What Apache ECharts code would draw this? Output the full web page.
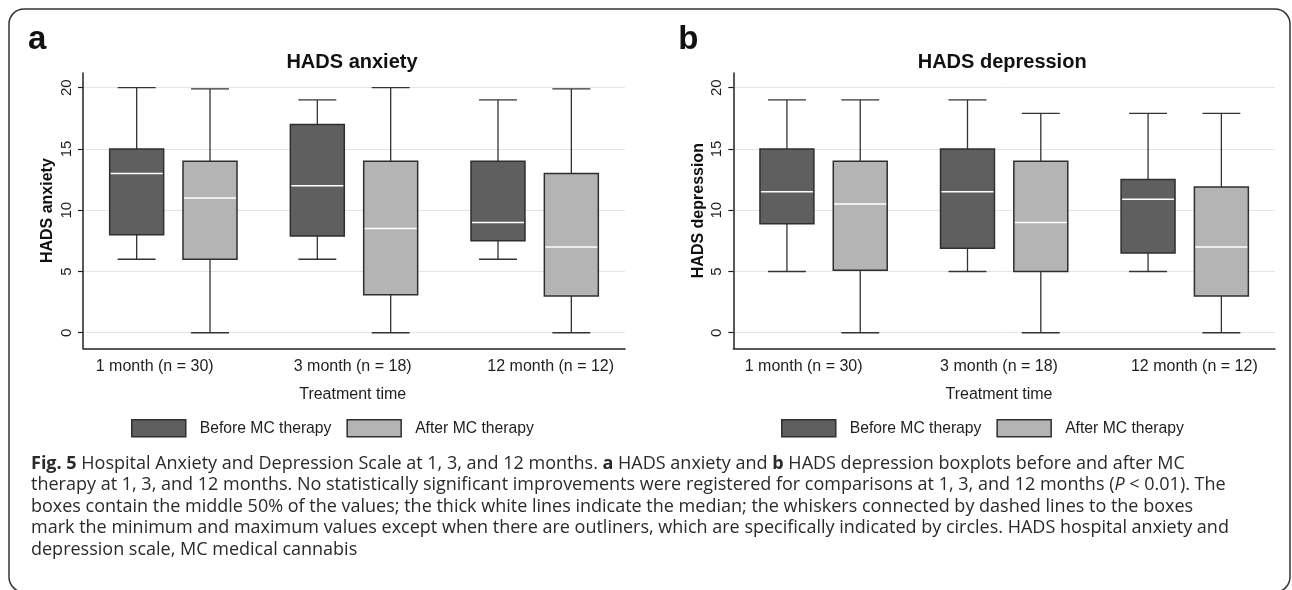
<!DOCTYPE html>
<html><head><meta charset="utf-8">
<script src="https://cdn.jsdelivr.net/npm/echarts@6/dist/echarts.min.js"></script>
<style>html,body{margin:0;padding:0;background:#fff}#c{width:1292px;height:590px}</style>
</head><body><div id="c"></div><script>
// ---------- data ----------
const categories = ['1 month (n = 30)', '3 month (n = 18)', '12 month (n = 12)'];
const seriesNames = ['Before MC therapy', 'After MC therapy'];
// each box: [min, Q1, median, Q3, max]
const anxietyBefore = [[6, 8, 13, 15, 20], [6, 7.9, 12, 17, 19], [6, 7.5, 9, 14, 19]];
const anxietyAfter = [[0, 6, 11, 14, 19.9], [0, 3.1, 8.5, 14, 20], [0, 3, 7, 13, 19.9]];
const depressionBefore = [[5, 8.9, 11.5, 15, 19], [5, 6.9, 11.5, 15, 19], [5, 6.5, 10.9, 12.5, 17.9]];
const depressionAfter = [[0, 5.1, 10.5, 14, 19], [0, 5, 9, 14, 17.9], [0, 3, 7, 11.9, 17.9]];
const yTicks = [0, 5, 10, 15, 20];
const panelTitles = ['HADS anxiety', 'HADS depression'];
const panelLetters = ['a', 'b'];
const xAxisTitle = 'Treatment time';
const captionLines = [
  '{b|Fig. 5} Hospital Anxiety and Depression Scale at 1, 3, and 12 months. {b|a} HADS anxiety and {b|b} HADS depression boxplots before and after MC',
  'therapy at 1, 3, and 12 months. No statistically significant improvements were registered for comparisons at 1, 3, and 12 months ({i|P} < 0.01). The',
  'boxes contain the middle 50% of the values; the thick white lines indicate the median; the whiskers connected by dashed lines to the boxes',
  'mark the minimum and maximum values except when there are outliners, which are specifically indicated by circles. HADS hospital anxiety and',
  'depression scale, MC medical cannabis'
];

// ---------- styles ----------
const FONT = '"Liberation Sans", Arial, Helvetica, sans-serif';
const CAP_FONT = '"Open Sans", "Noto Sans", sans-serif';
const CAP_SIZE = 18;
const TXT = '#1e1e1e';
const FILL_BEFORE = '#5f5f5f';
const FILL_AFTER = '#b4b4b4';
const EDGE = '#2f2f2f';
const Y_MIN = -1.27, Y_MAX = 21.2;

const panels = [
  { main: { left: 83, width: 542 }, label: { left: 55.7, width: 594 }, before: anxietyBefore, after: anxietyAfter, yName: 'HADS anxiety', legendLeft: 131 },
  { main: { left: 733.3, width: 541.7 }, label: { left: 706, width: 594 }, before: depressionBefore, after: depressionAfter, yName: 'HADS depression', legendLeft: 781 }
];
const GRID_TOP = 73, GRID_H = 275.3;

function makeBoxRenderer(side, fill) {
  return function (params, api) {
    const cat = api.value(0);
    const band = api.size([1, 0])[0];
    const cx = api.coord([cat, 0])[0] + side * band * 0.203;
    const half = band * 0.1494;
    const capHalf = band * 0.105;
    const yMin = api.coord([cat, api.value(1)])[1];
    const yQ1 = api.coord([cat, api.value(2)])[1];
    const yMed = api.coord([cat, api.value(3)])[1];
    const yQ3 = api.coord([cat, api.value(4)])[1];
    const yMax = api.coord([cat, api.value(5)])[1];
    const ls = { stroke: '#333', lineWidth: 1.3 };
    return {
      type: 'group', children: [
        { type: 'line', shape: { x1: cx, y1: yMax, x2: cx, y2: yQ3 }, style: ls },
        { type: 'line', shape: { x1: cx, y1: yQ1, x2: cx, y2: yMin }, style: ls },
        { type: 'line', shape: { x1: cx - capHalf, y1: yMax, x2: cx + capHalf, y2: yMax }, style: ls },
        { type: 'line', shape: { x1: cx - capHalf, y1: yMin, x2: cx + capHalf, y2: yMin }, style: ls },
        { type: 'rect', shape: { x: cx - half, y: yQ3, width: half * 2, height: yQ1 - yQ3 }, style: { fill: fill, stroke: EDGE, lineWidth: 1.5 } },
        { type: 'line', shape: { x1: cx - half + 1, y1: yMed, x2: cx + half - 1, y2: yMed }, style: { stroke: '#ffffff', lineWidth: 1.5 } }
      ]
    };
  };
}

const grid = [], xAxis = [], yAxis = [], series = [], legend = [], graphic = [];
panels.forEach((p, pi) => {
  const gMain = grid.length;
  grid.push({ left: p.main.left, width: p.main.width, top: GRID_TOP, height: GRID_H, containLabel: false });
  grid.push({ left: p.label.left, width: p.label.width, top: GRID_TOP, height: GRID_H, containLabel: false });
  xAxis.push({
    gridIndex: gMain, type: 'category', data: categories,
    axisLine: { show: true, onZero: false, lineStyle: { color: '#222', width: 1.5 } },
    axisTick: { show: false }, axisLabel: { show: false }, splitLine: { show: false }
  });
  xAxis.push({
    gridIndex: gMain + 1, type: 'category', data: categories,
    axisLine: { show: false, onZero: false }, axisTick: { show: false },
    axisLabel: { show: true, fontSize: 16, color: TXT, fontFamily: FONT, margin: 10 },
    name: xAxisTitle, nameLocation: 'middle', nameGap: 38,
    nameTextStyle: { fontSize: 16, color: TXT, fontFamily: FONT }
  });
  yAxis.push({
    gridIndex: gMain, type: 'value', min: Y_MIN, max: Y_MAX,
    axisLine: { show: true, lineStyle: { color: '#222', width: 1.5 } },
    axisTick: { show: true, length: 5, customValues: yTicks, lineStyle: { color: '#222', width: 1.2 } },
    axisLabel: { show: true, customValues: yTicks, rotate: 90, margin: 9, fontSize: 15, color: TXT, fontFamily: FONT },
    splitLine: { show: true, lineStyle: { color: '#e4e4e4', width: 1 } },
    name: p.yName, nameLocation: 'middle', nameGap: 27,
    nameTextStyle: { fontSize: 16, fontWeight: 'bold', color: '#111', fontFamily: FONT }
  });
  yAxis.push({ gridIndex: gMain + 1, type: 'value', min: Y_MIN, max: Y_MAX, show: false });

  [[p.before, -1, FILL_BEFORE, seriesNames[0]], [p.after, 1, FILL_AFTER, seriesNames[1]]].forEach(([vals, side, fill, name]) => {
    series.push({
      type: 'custom', name: name, xAxisIndex: gMain, yAxisIndex: gMain,
      renderItem: makeBoxRenderer(side, fill),
      itemStyle: { color: fill, borderColor: EDGE, borderWidth: 1.5 },
      encode: { x: 0, y: [1, 2, 3, 4, 5] },
      data: vals.map((v, i) => [i].concat(v)),
      silent: true
    });
  });

  legend.push({
    left: p.legendLeft, top: 419, padding: 0, itemGap: 15, itemWidth: 54, itemHeight: 17,
    icon: 'rect', selectedMode: false,
    textStyle: { fontSize: 15.7, color: TXT, fontFamily: FONT, padding: [0, 0, 0, 9] },
    data: [
      { name: seriesNames[0], itemStyle: { color: FILL_BEFORE, borderColor: EDGE, borderWidth: 1.5 } },
      { name: seriesNames[1], itemStyle: { color: FILL_AFTER, borderColor: EDGE, borderWidth: 1.5 } }
    ]
  });

  graphic.push({ type: 'text', x: p.main.left + p.main.width / 2 - 2, y: 62,
    style: { text: panelTitles[pi], align: 'center', verticalAlign: 'middle', fontSize: 20, fontWeight: 'bold', fontFamily: FONT, fill: '#111' } });
  graphic.push({ type: 'text', x: p.main.left - 55, y: 40,
    style: { text: panelLetters[pi], align: 'left', verticalAlign: 'middle', fontSize: 33, fontWeight: 'bold', fontFamily: FONT, fill: '#111' } });
});

// frame
graphic.push({ type: 'rect', shape: { x: 9, y: 9, width: 1281, height: 583, r: 15 },
  style: { fill: 'none', stroke: '#333', lineWidth: 1.5 }, z: -1 });
// caption
captionLines.forEach((t, i) => {
  graphic.push({ type: 'text', x: 31, y: 463.5 + i * 21.6,
    style: { text: t, align: 'left', verticalAlign: 'middle', fontSize: CAP_SIZE, fontFamily: CAP_FONT, fill: '#2a2a2a',
      rich: { b: { fontWeight: 'bold', fontSize: CAP_SIZE, fontFamily: CAP_FONT, fill: '#2a2a2a' },
              i: { fontStyle: 'italic', fontSize: CAP_SIZE, fontFamily: CAP_FONT, fill: '#2a2a2a' } } } });
});

const chart = echarts.init(document.getElementById('c'), null, { renderer: 'canvas' });
chart.setOption({ animation: false, backgroundColor: '#fff', grid, xAxis, yAxis, series, legend, graphic });
</script></body></html>
